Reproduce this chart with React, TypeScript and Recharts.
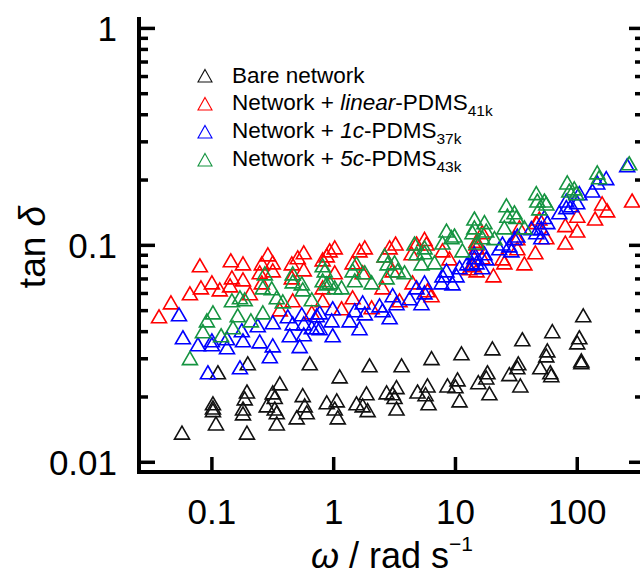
import React from 'react';
import { ScatterChart, Scatter, XAxis, YAxis, Legend, Label } from 'recharts';

const FONT = '"Liberation Sans", Arial, Helvetica, sans-serif';

// [omega (rad/s), tan delta]
const bareNetwork: [number, number][] = [
  [0.112, 0.026], [0.197, 0.0286], [0.636, 0.0286], [1.12, 0.0249], [1.97, 0.028], [3.61, 0.028],
  [6.36, 0.0302], [11.2, 0.0318], [20.1, 0.0335], [35.4, 0.0369], [62.4, 0.0402], [112, 0.0476],
  [0.0568, 0.0137], [0.102, 0.0187], [0.102, 0.0179], [0.102, 0.0174], [0.108, 0.0151], [0.194, 0.0212],
  [0.186, 0.0197], [0.18, 0.0177], [0.18, 0.0168], [0.194, 0.0137], [0.361, 0.0231], [0.316, 0.021],
  [0.328, 0.02], [0.282, 0.0183], [0.328, 0.0177], [0.341, 0.017], [0.341, 0.0151], [0.557, 0.0204],
  [0.578, 0.0183], [0.601, 0.017], [0.497, 0.0161], [0.877, 0.0189], [1.06, 0.0193], [1.02, 0.0177],
  [1.08, 0.0161], [1.86, 0.0208], [1.54, 0.0187], [1.73, 0.0183], [1.9, 0.0174], [2.72, 0.021],
  [3.28, 0.0222], [3.16, 0.02], [3.28, 0.0177], [3.05, 0.0208], [4.88, 0.0212], [5.68, 0.0206],
  [6.01, 0.0187], [5.89, 0.0226], [8.6, 0.0226], [10, 0.0224], [10.4, 0.0241], [10.8, 0.0193],
  [15.4, 0.0234], [17.9, 0.0246], [18.3, 0.026], [19, 0.0208], [27.7, 0.0255], [32.2, 0.0274],
  [32.8, 0.0286], [34.1, 0.0226], [49.7, 0.0274], [55.7, 0.0311], [56.8, 0.0328], [60.1, 0.026],
  [61.2, 0.0252], [100, 0.0357], [104, 0.0377], [108, 0.0289], [108, 0.0295],
];

const linearPdms: [number, number][] = [
  [0.0368, 0.0471], [0.0461, 0.0546], [0.066, 0.0601], [0.0813, 0.064], [0.1, 0.0675], [0.0797, 0.0809],
  [0.116, 0.0627], [0.143, 0.0853], [0.146, 0.0712], [0.141, 0.0654], [0.18, 0.0826], [0.18, 0.0697],
  [0.205, 0.0601], [0.257, 0.0826], [0.288, 0.0909], [0.316, 0.0835], [0.316, 0.0767], [0.257, 0.0675],
  [0.247, 0.0751], [0.453, 0.0826], [0.507, 0.0881], [0.568, 0.0929], [0.568, 0.0775], [0.453, 0.0712],
  [0.461, 0.0558], [0.361, 0.0507], [0.661, 0.0491], [0.877, 0.0899], [0.812, 0.064], [0.812, 0.0862],
  [0.927, 0.0948], [1.02, 0.0979], [1.02, 0.0751], [0.812, 0.0558], [1.16, 0.0513], [1.63, 0.0948],
  [1.8, 0.0979], [1.43, 0.0835], [1.73, 0.0751], [1.43, 0.0576], [2.05, 0.0518], [2.62, 0.0899],
  [2.88, 0.0979], [3.22, 0.102], [2.52, 0.064], [3.05, 0.0767], [3.47, 0.0558], [4.36, 0.0919],
  [4.79, 0.102], [5.57, 0.107], [5.78, 0.102], [4.44, 0.0675], [5.89, 0.0621], [6.36, 0.0589],
  [7.82, 0.0948], [8.93, 0.0871], [13, 0.0784], [14.9, 0.102], [14.9, 0.0767], [16.6, 0.115],
  [14.9, 0.105], [14.9, 0.0979], [16.6, 0.0881], [13.8, 0.0809], [20.5, 0.0727], [24.3, 0.0871],
  [25.2, 0.0835], [32.2, 0.108], [32.2, 0.0969], [33.5, 0.121], [36.8, 0.0826], [45.3, 0.0929],
  [46.1, 0.128], [48.8, 0.133], [55.7, 0.109], [79.8, 0.124], [79.8, 0.103], [100, 0.117],
  [100, 0.137], [140, 0.133], [160, 0.156], [176, 0.145], [282, 0.161],
];

const oneCPdms: [number, number][] = [
  [0.0537, 0.0481], [0.0578, 0.0377], [0.0768, 0.035], [0.1, 0.035], [0.1, 0.0365], [0.133, 0.0339],
  [0.133, 0.0373], [0.176, 0.0406], [0.18, 0.0365], [0.247, 0.0361], [0.238, 0.0428], [0.316, 0.0442],
  [0.316, 0.0346], [0.299, 0.0308], [0.42, 0.0471], [0.436, 0.0385], [0.461, 0.0437], [0.547, 0.0481],
  [0.568, 0.0437], [0.568, 0.0389], [0.526, 0.0343], [0.726, 0.0419], [0.0927, 0.026], [0.17, 0.0274],
  [0.768, 0.0491], [0.726, 0.0476], [0.768, 0.0415], [0.981, 0.0513], [0.963, 0.0451], [0.981, 0.0385],
  [0.661, 0.0419], [1.35, 0.0451], [1.49, 0.0502], [1.73, 0.0546], [1.8, 0.0486], [1.63, 0.0415],
  [2.38, 0.0529], [2.52, 0.0502], [2.88, 0.0466], [3.05, 0.0589], [3.28, 0.0541], [4.2, 0.057],
  [4.79, 0.064], [5.57, 0.0675], [5.57, 0.0607], [5.26, 0.0541], [7.82, 0.0727], [8.44, 0.0767],
  [7.68, 0.0675], [9.45, 0.0668], [10.2, 0.0727], [10.8, 0.0792], [12.5, 0.0826], [14.3, 0.0919],
  [14.9, 0.0835], [14.3, 0.0881], [13.8, 0.0826], [16.6, 0.0792], [17.3, 0.0919], [17.9, 0.0871],
  [22.9, 0.0969], [24.3, 0.102], [28.8, 0.0948], [30.5, 0.108], [32.2, 0.111], [27.7, 0.1],
  [42, 0.12], [46.1, 0.115], [50.7, 0.12], [53.7, 0.135], [56.8, 0.128], [50.7, 0.109],
  [71.2, 0.142], [81.3, 0.15], [81.3, 0.161], [89.3, 0.153], [100, 0.158], [104, 0.174],
  [133, 0.179], [146, 0.195], [173, 0.204], [257, 0.234],
];

const fiveCPdms: [number, number][] = [
  [0.066, 0.0302], [0.0844, 0.0402], [0.091, 0.0451], [0.102, 0.0491], [0.119, 0.0385], [0.146, 0.0558],
  [0.17, 0.0576], [0.186, 0.0564], [0.163, 0.0476], [0.149, 0.0419], [0.209, 0.0451], [0.262, 0.0491],
  [0.272, 0.0743], [0.262, 0.064], [0.31, 0.0634], [0.341, 0.0576], [0.382, 0.0552], [0.461, 0.0743],
  [0.461, 0.0682], [0.547, 0.0668], [0.557, 0.0627], [0.661, 0.0564], [0.877, 0.0668], [0.844, 0.0767],
  [0.812, 0.0809], [0.812, 0.069], [0.927, 0.0675], [1.02, 0.064], [1.16, 0.064], [1.43, 0.0767],
  [1.54, 0.0826], [1.49, 0.069], [1.8, 0.0751], [2.05, 0.0675], [2.62, 0.0899], [2.77, 0.0826],
  [3.16, 0.0835], [3.35, 0.0767], [2.72, 0.0712], [3.82, 0.0751], [4.61, 0.102], [4.79, 0.0919],
  [5.57, 0.0979], [5.57, 0.0929], [5.26, 0.0826], [6.73, 0.0835], [8.44, 0.117], [9.27, 0.109],
  [9.81, 0.111], [7.82, 0.103], [11.4, 0.0948], [14.3, 0.133], [14.3, 0.121], [14.9, 0.103],
  [13.8, 0.115], [17.3, 0.128], [17.9, 0.117], [16.6, 0.109], [20.9, 0.108], [26.2, 0.153],
  [26.7, 0.137], [30.5, 0.142], [31.6, 0.135], [25.2, 0.121], [36.8, 0.121], [46.1, 0.174],
  [47, 0.161], [53.7, 0.161], [55.7, 0.156], [48.8, 0.148], [82.8, 0.195], [86, 0.179],
  [94.5, 0.183], [98.1, 0.174], [146, 0.217], [151, 0.206], [267, 0.239],
];

const legendLabels = [
  { pre: 'Bare network', em: '', post: '', sub: '' },
  { pre: 'Network + ', em: 'linear', post: '-PDMS', sub: '41k' },
  { pre: 'Network + ', em: '1c', post: '-PDMS', sub: '37k' },
  { pre: 'Network + ', em: '5c', post: '-PDMS', sub: '43k' },
];

const xTicks = [0.1, 1, 10, 100];
const yTicks = [
  0.01, 0.02, 0.03, 0.04, 0.05, 0.06, 0.07, 0.08, 0.09,
  0.1, 0.2, 0.3, 0.4, 0.5, 0.6, 0.7, 0.8, 0.9, 1,
];

const COLORS = ['#111111', '#ff0000', '#0000ff', '#159441'];

const toPoints = (rows: [number, number][]) => rows.map(([w, tan]) => ({ w, tan }));
const allSeries = [bareNetwork, linearPdms, oneCPdms, fiveCPdms].map(toPoints);

const isMajor = (v: number) => Math.abs(Math.log10(v) - Math.round(Math.log10(v))) < 1e-9;

const OpenTriangle = ({ cx, cy, color }: any) => {
  if (cx == null || cy == null) return null;
  const pts = `${cx},${cy - 6.5} ${cx + 7.5},${cy + 6.5} ${cx - 7.5},${cy + 6.5}`;
  return <polygon points={pts} fill="none" stroke={color} strokeWidth={1.6} strokeLinejoin="miter" />;
};

const LeftTick = ({ x, y, payload }: any) => {
  const major = isMajor(payload.value);
  return (
    <g>
      <line x1={x} x2={x + (major ? 16 : 9)} y1={y} y2={y} stroke="#000" strokeWidth={3.5} />
      {major && (
        <text x={x - 22} y={y + 12.5} textAnchor="end" fontSize={35} fontFamily={FONT} fill="#000">
          {String(payload.value)}
        </text>
      )}
    </g>
  );
};

const RightTick = ({ x, y, payload }: any) => {
  const major = isMajor(payload.value);
  return <line x1={x} x2={x - (major ? 16 : 10)} y1={y} y2={y} stroke="#000" strokeWidth={3.5} />;
};

const BottomTick = ({ x, y, payload }: any) => (
  <g>
    <line x1={x} x2={x} y1={y} y2={y - 15} stroke="#000" strokeWidth={3.5} />
    <text x={x} y={y + 51.5} textAnchor="middle" fontSize={35} fontFamily={FONT} fill="#000">
      {String(payload.value)}
    </text>
  </g>
);

const TopTick = ({ x, y }: any) => (
  <line x1={x} x2={x} y1={y} y2={y + 14} stroke="#000" strokeWidth={3.5} />
);

const renderLegend = () => (
  <div style={{ fontFamily: FONT, fontSize: 22.5, color: '#000' }}>
    {legendLabels.map((l, i) => (
      <div
        key={i}
        style={{ display: 'flex', alignItems: 'center', height: 28, lineHeight: '28px', whiteSpace: 'nowrap' }}
      >
        <svg width={16} height={16} style={{ marginRight: 19 }}>
          <polygon points="8,1.5 15,14 1,14" fill="none" stroke={COLORS[i]} strokeWidth={1.1} />
        </svg>
        <span>
          {l.pre}
          {l.em && <i>{l.em}</i>}
          {l.post}
          {l.sub && <span style={{ fontSize: 15.5, position: 'relative', top: 6 }}>{l.sub}</span>}
        </span>
      </div>
    ))}
  </div>
);

const axisLine = { stroke: '#000', strokeWidth: 4, strokeLinecap: 'square' as const };

export default function App() {
  return (
    <div style={{ position: 'absolute', left: 0, top: 0, width: 640, height: 576, overflow: 'hidden', background: '#fff' }}>
      <ScatterChart width={660} height={576} margin={{ top: 19, right: 0, bottom: 0, left: 0 }}>
        <XAxis
          xAxisId="bottom"
          dataKey="w"
          type="number"
          scale="log"
          domain={[0.0252, 360]}
          ticks={xTicks}
          interval={0}
          height={104}
          axisLine={axisLine}
          tickLine={false}
          tickSize={0}
          tickMargin={0}
          tick={(p: any) => <BottomTick {...p} />}
        >
          <Label
            content={() => (
              <text x={392} y={568} textAnchor="middle" fontSize={36} fontFamily={FONT} fill="#000">
                <tspan fontStyle="italic">ω</tspan>
                <tspan> / rad s</tspan>
                <tspan dy={-17} fontSize={21}>−1</tspan>
              </text>
            )}
          />
        </XAxis>
        <XAxis
          xAxisId="top"
          orientation="top"
          type="number"
          scale="log"
          domain={[0.0252, 360]}
          allowDataOverflow
          ticks={xTicks}
          interval={0}
          height={0}
          axisLine={axisLine}
          tickLine={false}
          tickSize={0}
          tickMargin={0}
          tick={(p: any) => <TopTick {...p} />}
        />
        <YAxis
          yAxisId="left"
          dataKey="tan"
          type="number"
          scale="log"
          domain={[0.00902, 1.105]}
          ticks={yTicks}
          interval={0}
          width={139}
          axisLine={axisLine}
          tickLine={false}
          tickSize={0}
          tickMargin={0}
          tick={(p: any) => <LeftTick {...p} />}
        >
          <Label
            content={() => (
              <text
                transform="rotate(-90)"
                x={-247}
                y={45}
                textAnchor="middle"
                fontSize={37}
                fontFamily={FONT}
                fill="#000"
              >
                tan <tspan fontStyle="italic">δ</tspan>
              </text>
            )}
          />
        </YAxis>
        <YAxis
          yAxisId="right"
          orientation="right"
          type="number"
          scale="log"
          domain={[0.00902, 1.105]}
          allowDataOverflow
          ticks={yTicks}
          interval={0}
          width={15}
          axisLine={axisLine}
          tickLine={false}
          tickSize={0}
          tickMargin={0}
          tick={(p: any) => <RightTick {...p} />}
        />
        <Legend
          layout="vertical"
          align="center"
          verticalAlign="middle"
          content={renderLegend}
          wrapperStyle={{ left: 197, top: 62, width: 400 }}
        />
        {allSeries.map((pts, i) => (
          <Scatter
            key={i}
            xAxisId="bottom"
            yAxisId="left"
            data={pts}
            isAnimationActive={false}
            shape={(p: any) => <OpenTriangle {...p} color={COLORS[i]} />}
          />
        ))}
      </ScatterChart>
    </div>
  );
}
